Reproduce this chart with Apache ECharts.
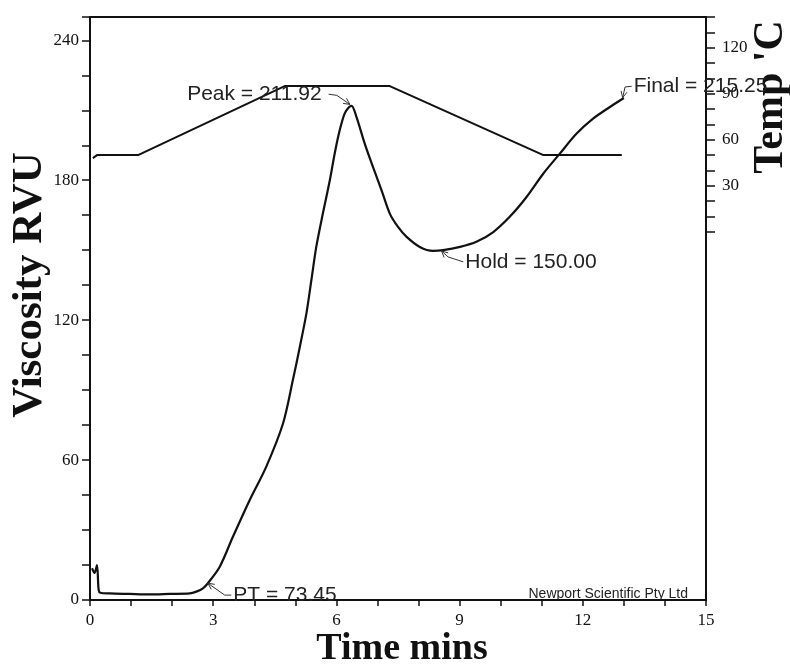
<!DOCTYPE html>
<html><head><meta charset="utf-8">
<script src="https://cdn.jsdelivr.net/npm/echarts@6/dist/echarts.min.js"></script>
<style>html,body{margin:0;padding:0;background:#fff}#c{width:790px;height:667px}</style>
</head><body><div id="c"></div>
<script>
// Viscosity profile (RVU) vs time (min)
const viscTime = [0.05,0.11,0.17,0.21,0.25,0.48,0.96,1.45,1.94,2.43,2.59,2.75,2.87,3.16,3.48,3.89,4.29,4.70,4.94,5.11,5.27,5.39,5.51,5.67,5.84,5.96,6.08,6.20,6.31,6.37,6.49,6.69,6.89,7.10,7.30,7.50,7.71,8.03,8.35,8.60,9.01,9.41,9.82,10.22,10.63,11.04,11.44,11.85,12.25,12.66,13.00];
const viscRVU  = [13.6,11.6,15.0,4.3,3.1,2.8,2.6,2.4,2.6,2.8,3.6,5.0,7.2,14.3,27.1,42.9,57.1,75.7,94.3,108.6,122.9,137.1,151.4,165.7,180.0,191.6,201.4,208.6,211.4,211.92,207.1,195.7,185.7,175.7,165.7,160.0,155.7,151.4,149.7,150.0,151.4,153.6,157.8,164.3,172.8,182.9,191.4,200.0,206.4,211.4,215.25];
// Temperature profile (°C) vs time (min)
const tempTime = [0.07,0.17,1.17,4.74,7.30,11.04,12.95];
const tempC    = [48,50,50,95,95,50,50];
// Tick labels
const xTickLabels = [0,3,6,9,12,15];
const rvuTickLabels = [0,60,120,180,240];
const tempTickLabels = [30,60,90,120];
// Annotations: label, arrow tip, elbow, line end (data coords: min, RVU)
const annLabels = ['Peak = 211.92','Hold = 150.00','Final = 215.25','PT = 73.45'];
const annTip  = [[6.33,212.5],[8.56,149.7],[12.97,215.4],[2.87,7.2]];
const annKnee = [[6.01,216.4],[8.72,147.1],[13.03,220.0],[3.28,2.1]];
const annEnd  = [[5.81,216.9],[9.09,145.0],[13.19,220.3],[3.44,2.1]];
const annTextLeft = [true,false,false,false];

const chart = echarts.init(document.getElementById('c'), null, {renderer:'canvas'});
const serif = '"Liberation Serif","Times New Roman",serif';
const sans = '"Liberation Sans",Arial,sans-serif';
const ink = '#111';

const option = {
  animation:false,
  backgroundColor:'#ffffff',
  grid:[
    {left:90, right:84, top:17, bottom:67, show:true, borderColor:ink, borderWidth:2, backgroundColor:'transparent'},
    {left:90, right:84, top:17, height:214.8, show:false}
  ],
  xAxis:[
    {type:'value', gridIndex:0, min:0, max:15, interval:1,
     axisLine:{show:true, onZero:false, lineStyle:{color:ink, width:2}},
     axisTick:{show:true, inside:false, length:6, lineStyle:{color:ink, width:1.5}},
     axisLabel:{margin:12, color:ink, fontFamily:serif, fontSize:17,
       formatter:v=> xTickLabels.indexOf(Math.round(v))>=0 && Math.abs(v-Math.round(v))<1e-6 ? String(Math.round(v)) : ''},
     splitLine:{show:false}},
    {type:'value', gridIndex:1, min:0, max:15, show:false, axisLine:{onZero:false}}
  ],
  yAxis:[
    {type:'value', gridIndex:0, position:'left', min:0, max:250, interval:15,
     axisLine:{show:true, onZero:false, lineStyle:{color:ink, width:2}},
     axisTick:{show:true, inside:false, length:8, lineStyle:{color:ink, width:1.5}},
     axisLabel:{margin:11, color:ink, fontFamily:serif, fontSize:17,
       formatter:v=> rvuTickLabels.indexOf(Math.round(v))>=0 ? String(Math.round(v)) : ''},
     splitLine:{show:false}},
    {type:'value', gridIndex:1, position:'right', min:0, max:140, interval:10,
     axisLine:{show:true, onZero:false, lineStyle:{color:ink, width:2}},
     axisTick:{show:true, inside:false, length:9, lineStyle:{color:ink, width:1.5}},
     axisLabel:{margin:16, color:ink, fontFamily:serif, fontSize:17,
       formatter:v=> tempTickLabels.indexOf(Math.round(v))>=0 ? String(Math.round(v)) : ''},
     splitLine:{show:false}}
  ],
  series:[
    {type:'line', xAxisIndex:0, yAxisIndex:0, showSymbol:false, symbol:'none',
     smooth:0.3,
     data: viscTime.map((t,i)=>[t, viscRVU[i]]),
     lineStyle:{color:ink, width:2.2}, z:3},
    {type:'line', xAxisIndex:1, yAxisIndex:1, showSymbol:false, symbol:'none',
     data: tempTime.map((t,i)=>[t, tempC[i]]),
     lineStyle:{color:ink, width:2}, z:3},
    {type:'custom', xAxisIndex:0, yAxisIndex:0, z:5, clip:false,
     data: annTip.map(p=>[p[0],p[1]]),
     renderItem:function(params, api){
       const i = params.dataIndex;
       const tip = api.coord(annTip[i]), knee = api.coord(annKnee[i]), end = api.coord(annEnd[i]);
       const dx = tip[0]-knee[0], dy = tip[1]-knee[1];
       const len = Math.hypot(dx,dy) || 1; const ux = dx/len, uy = dy/len;
       const a = 7, ang = Math.PI/7, c = Math.cos(ang), s = Math.sin(ang);
       const h1 = [tip[0]-a*(ux*c - uy*s), tip[1]-a*(uy*c + ux*s)];
       const h2 = [tip[0]-a*(ux*c + uy*s), tip[1]-a*(uy*c - ux*s)];
       const left = annTextLeft[i];
       return {type:'group', children:[
         {type:'polyline', shape:{points:[end,knee,tip]}, style:{stroke:'#333', lineWidth:1, fill:null}},
         {type:'polyline', shape:{points:[h1,tip,h2]}, style:{stroke:'#333', lineWidth:1, fill:null}},
         {type:'text', x:end[0] + (left?-7:2), y:end[1],
          style:{text:annLabels[i], fontSize:21, fontFamily:sans, fill:'#222',
                 align:left?'right':'left', verticalAlign:'middle'}}
       ]};
     }}
  ],
  graphic:[
    {type:'text', x:402, y:649, style:{text:'Time mins', fontSize:38, fontWeight:'bold', fontFamily:serif, fill:ink, align:'center', verticalAlign:'middle'}},
    {type:'text', x:30, y:285, rotation:Math.PI/2, style:{text:'Viscosity RVU', fontSize:43, fontWeight:'bold', fontFamily:serif, fill:ink, align:'center', verticalAlign:'middle'}},
    {type:'text', x:771, y:97, rotation:Math.PI/2, style:{text:"Temp 'C", fontSize:42, fontWeight:'bold', fontFamily:serif, fill:ink, align:'center', verticalAlign:'middle'}},
    {type:'text', x:688, y:594, style:{text:'Newport Scientific Pty Ltd', fontSize:14, fontFamily:sans, fill:'#222', align:'right', verticalAlign:'middle'}}
  ]
};
chart.setOption(option);
</script>
</body></html>
